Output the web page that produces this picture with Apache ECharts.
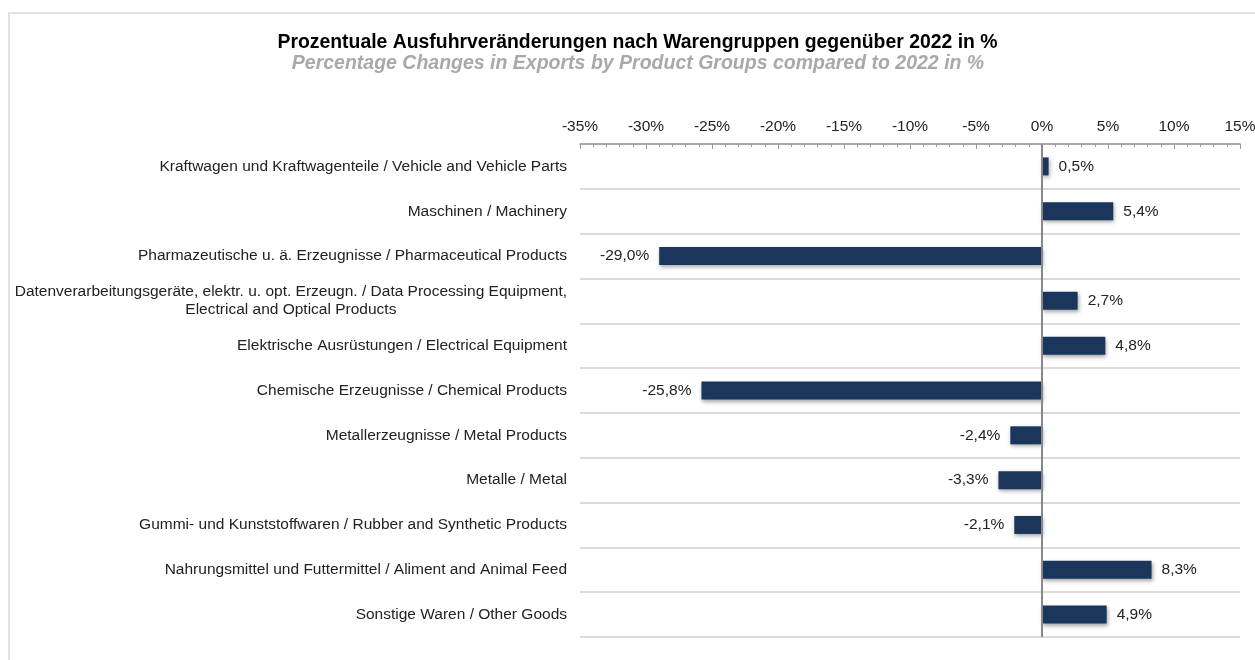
<!DOCTYPE html>
<html>
<head>
<meta charset="utf-8">
<script src="https://cdn.jsdelivr.net/npm/echarts@6/dist/echarts.min.js"></script>
<style>
html,body{margin:0;padding:0;background:#fff;overflow:hidden;}
#frame{position:absolute;left:8px;top:12px;width:1400px;height:800px;border:2px solid #e2e2e2;box-sizing:border-box;}
#chart{position:absolute;left:0;top:0;width:1255px;height:660px;}
</style>
</head>
<body>
<div id="frame"></div>
<div id="chart"></div>
<script>
const titleDe = 'Prozentuale Ausfuhrveränderungen nach Warengruppen gegenüber 2022 in %';
const titleEn = 'Percentage Changes in Exports by Product Groups compared to 2022 in %';
const categories = [
  'Kraftwagen und Kraftwagenteile / Vehicle and Vehicle Parts',
  'Maschinen / Machinery',
  'Pharmazeutische u. ä. Erzeugnisse / Pharmaceutical Products',
  'Datenverarbeitungsgeräte, elektr. u. opt. Erzeugn. / Data Processing Equipment,\nElectrical and Optical Products',
  'Elektrische Ausrüstungen / Electrical Equipment',
  'Chemische Erzeugnisse / Chemical Products',
  'Metallerzeugnisse / Metal Products',
  'Metalle / Metal',
  'Gummi- und Kunststoffwaren / Rubber and Synthetic Products',
  'Nahrungsmittel und Futtermittel / Aliment and Animal Feed',
  'Sonstige Waren / Other Goods'
];
const values = [0.5, 5.4, -29.0, 2.7, 4.8, -25.8, -2.4, -3.3, -2.1, 8.3, 4.9];
const xTicks = {min: -35, max: 15, interval: 5};

const FONT = '"Liberation Sans", Arial, Helvetica, sans-serif';
const FS = 15.5;
const chart = echarts.init(document.getElementById('chart'), null, {renderer: 'canvas'});

const barData = values.map(v => ({
  value: v,
  label: {position: v < 0 ? 'left' : 'right'}
}));

chart.setOption({
  backgroundColor: 'transparent',
  animation: false,
  title: [{
    text: titleDe, padding: 0,
    left: 637.5, top: 33, textAlign: 'center',
    textStyle: {fontFamily: FONT, fontSize: 19.4, fontWeight: 'bold', color: '#000'}
  }, {
    text: titleEn, padding: 0,
    left: 638, top: 54, textAlign: 'center',
    textStyle: {fontFamily: FONT, fontSize: 19.5, fontWeight: 'bold', fontStyle: 'italic', color: '#a9a9a9'}
  }],
  grid: {left: 580, right: 15, top: 144, bottom: 23, containLabel: false, outerBoundsMode: 'none'},
  xAxis: {
    type: 'value', position: 'top',
    min: xTicks.min, max: xTicks.max, interval: xTicks.interval,
    axisLine: {show: true, lineStyle: {color: '#999', width: 1.5}},
    axisTick: {show: true, inside: true, length: 5, lineStyle: {color: '#999'}},
    minorTick: {show: true, splitNumber: 5, length: 3, lineStyle: {color: '#999'}},
    splitLine: {show: false},
    axisLabel: {formatter: '{value}%', fontFamily: FONT, fontSize: FS, color: '#222', margin: 9}
  },
  yAxis: {
    type: 'category', inverse: true, data: categories,
    axisLine: {show: false}, axisTick: {show: false},
    splitLine: {show: true, lineStyle: {color: '#cfcfcf', width: 1.5}},
    axisLabel: {
      margin: 13, fontFamily: FONT, fontSize: FS, color: '#222',
      formatter: v => v.split('\n').map(s => '{c|' + s + '}').join('\n'),
      rich: {c: {align: 'center', fontFamily: FONT, fontSize: FS, color: '#222', lineHeight: 18}}
    }
  },
  series: [{
    type: 'bar', data: barData, barWidth: 18,
    itemStyle: {color: '#1b365d', shadowColor: 'rgba(0,0,0,0.35)', shadowBlur: 4, shadowOffsetX: 1, shadowOffsetY: 2},
    label: {
      show: true, distance: 10, fontFamily: FONT, fontSize: FS, color: '#222',
      formatter: p => p.value.toFixed(1).replace('.', ',') + '%'
    },
    markLine: {
      silent: true, symbol: 'none', label: {show: false},
      lineStyle: {color: '#888', width: 2, type: 'solid'},
      data: [{xAxis: 0}]
    }
  }]
});
</script>
</body>
</html>
